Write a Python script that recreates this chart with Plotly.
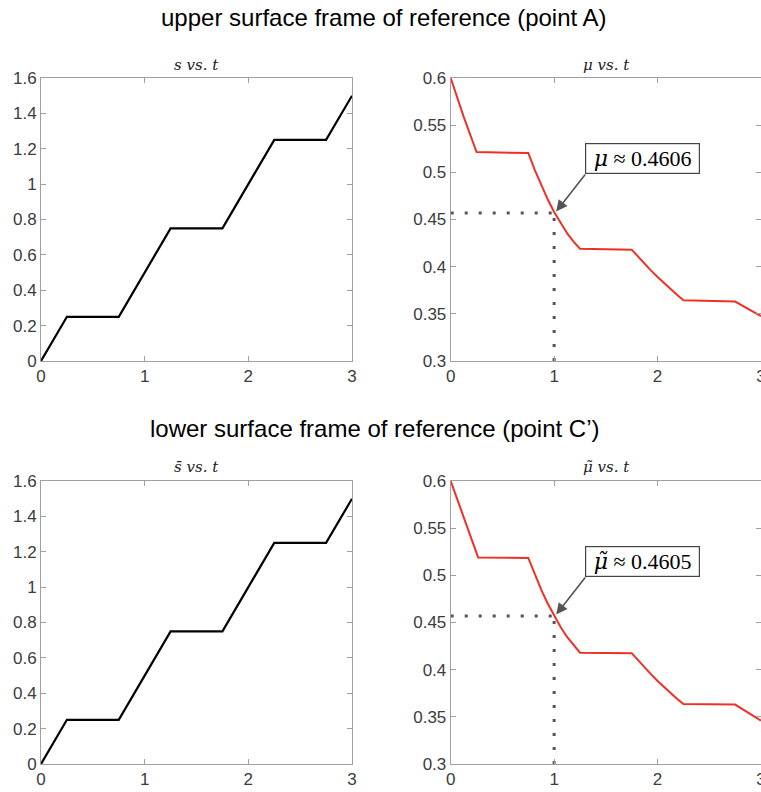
import plotly.graph_objects as go

# ---- data ----
t_s = [0, 0.25, 0.75, 1.25, 1.75, 2.25, 2.75, 3.0]
s_vals = [0, 0.25, 0.25, 0.75, 0.75, 1.25, 1.25, 1.5]
s_bar_vals = [0, 0.25, 0.25, 0.75, 0.75, 1.25, 1.25, 1.5]

t_mu = [0, 0.125, 0.25, 0.75, 0.8125, 0.875, 0.9375, 1.0, 1.0625, 1.125, 1.1875, 1.25,
        1.75, 1.8125, 1.875, 1.9375, 2.0, 2.0625, 2.125, 2.1875, 2.25, 2.75, 3.0]
mu_vals = [0.600, 0.559, 0.5215, 0.5205, 0.5027, 0.4863, 0.4714, 0.458, 0.446, 0.4355, 0.4265, 0.419,
           0.418, 0.4104, 0.403, 0.3958, 0.389, 0.3824, 0.3762, 0.3702, 0.3645, 0.363, 0.3475]

t_mu_bar = [0, 0.22, 0.265, 0.75, 0.8125, 0.875, 0.9375, 1.0, 1.0625, 1.125, 1.1875, 1.25,
            1.75, 1.8125, 1.875, 1.9375, 2.0, 2.0625, 2.125, 2.1875, 2.25, 2.75, 3.0]
mu_bar_vals = [0.600, 0.534, 0.519, 0.5185, 0.5009, 0.4849, 0.4702, 0.457, 0.4452, 0.4347, 0.4257, 0.418,
               0.4175, 0.4097, 0.4021, 0.395, 0.388, 0.3814, 0.3751, 0.3691, 0.3635, 0.363, 0.346]

t_mark = 1.0
mu_mark = 0.457
mu_bar_mark = 0.457
mu_value_text = "0.4606"
mu_bar_value_text = "0.4605"

x_ticks = [0, 1, 2, 3]
s_ticks = [0, 0.2, 0.4, 0.6, 0.8, 1.0, 1.2, 1.4, 1.6]
s_ticktext = ["0", "0.2", "0.4", "0.6", "0.8", "1", "1.2", "1.4", "1.6"]
mu_ticks = [0.3, 0.35, 0.4, 0.45, 0.5, 0.55, 0.6]
mu_ticktext = ["0.3", "0.35", "0.4", "0.45", "0.5", "0.55", "0.6"]

W, H = 761, 792
def px(x):
    return x / W
def py(y):
    return 1 - y / H

fig = go.Figure()

BLACK = "#000000"
RED = "#ee3126"
DOT = "#555555"

def dotted(xs, ys, xa_, ya_):
    fig.add_trace(go.Scatter(x=xs, y=ys, mode="lines",
                             line=dict(color=DOT, width=3, dash="3px,11px"),
                             xaxis=xa_, yaxis=ya_, showlegend=False, hoverinfo="skip"))

fig.add_trace(go.Scatter(x=t_s, y=s_vals, mode="lines", line=dict(color=BLACK, width=2.2),
                         xaxis="x", yaxis="y", showlegend=False))
dotted([0, t_mark], [mu_mark, mu_mark], "x2", "y2")
dotted([t_mark, t_mark], [0.3, mu_mark], "x2", "y2")
fig.add_trace(go.Scatter(x=t_mu, y=mu_vals, mode="lines", line=dict(color=RED, width=2),
                         xaxis="x2", yaxis="y2", showlegend=False))
fig.add_trace(go.Scatter(x=t_s, y=s_bar_vals, mode="lines", line=dict(color=BLACK, width=2.2),
                         xaxis="x3", yaxis="y3", showlegend=False))
dotted([0, t_mark], [mu_bar_mark, mu_bar_mark], "x4", "y4")
dotted([t_mark, t_mark], [0.3, mu_bar_mark], "x4", "y4")
fig.add_trace(go.Scatter(x=t_mu_bar, y=mu_bar_vals, mode="lines", line=dict(color=RED, width=2),
                         xaxis="x4", yaxis="y4", showlegend=False))

axis_common = dict(showgrid=False, zeroline=False, showline=True, linecolor="#a0a0a0",
                   linewidth=1, mirror="ticks", ticks="inside", ticklen=5, tickcolor="#a0a0a0",
                   ticklabeloverflow="allow",
                   tickfont=dict(family="Liberation Sans, Arial", size=17, color="#3c3c3c"))

xl = [px(41), px(352)]
xr = [px(450.7), 1.0]
yt = [py(361), py(78)]
yb = [py(764), py(481)]

def xa(domain, anchor):
    return dict(axis_common, domain=domain, anchor=anchor, range=[0, 3],
                tickvals=x_ticks, ticktext=[str(v) for v in x_ticks])

def ya_s(domain, anchor):
    return dict(axis_common, domain=domain, anchor=anchor, range=[0, 1.6],
                tickvals=s_ticks, ticktext=s_ticktext)

def ya_mu(domain, anchor):
    return dict(axis_common, domain=domain, anchor=anchor, range=[0.3, 0.6],
                tickvals=mu_ticks, ticktext=mu_ticktext)

fig.update_layout(
    width=W, height=H, margin=dict(l=0, r=0, t=0, b=0, autoexpand=False),
    paper_bgcolor="white", plot_bgcolor="white",
    xaxis=xa(xl, "y"), yaxis=ya_s(yt, "x"),
    xaxis2=xa(xr, "y2"), yaxis2=ya_mu(yt, "x2"),
    xaxis3=xa(xl, "y3"), yaxis3=ya_s(yb, "x3"),
    xaxis4=xa(xr, "y4"), yaxis4=ya_mu(yb, "x4"),
)

title_font = dict(family="Liberation Sans, Arial", size=24, color="#000000")
sub_font = dict(family="DejaVu Serif", size=15, color="#222222")

annotations = [
    dict(text="upper surface frame of reference (point A)", x=px(384), y=py(18),
         xref="paper", yref="paper", showarrow=False, font=title_font, xanchor="center", yanchor="middle"),
    dict(text="lower surface frame of reference (point C’)", x=px(375), y=py(428),
         xref="paper", yref="paper", showarrow=False, font=title_font, xanchor="center", yanchor="middle"),
    dict(text="<i>s vs. t</i>", x=px(196.5), y=py(65), xref="paper", yref="paper",
         showarrow=False, font=sub_font, xanchor="center", yanchor="middle"),
    dict(text="<i>μ vs. t</i>", x=px(606), y=py(65), xref="paper", yref="paper",
         showarrow=False, font=sub_font, xanchor="center", yanchor="middle"),
    dict(text="<i>s̄ vs. t</i>", x=px(196.5), y=py(467), xref="paper", yref="paper",
         showarrow=False, font=sub_font, xanchor="center", yanchor="middle"),
    dict(text="<i>μ̃ vs. t</i>", x=px(606), y=py(467), xref="paper", yref="paper",
         showarrow=False, font=sub_font, xanchor="center", yanchor="middle"),
]

box_font = dict(family="Liberation Serif, Times New Roman", size=22, color="#000000")
for xr_, yr_, sym, val, m in [("x2", "y2", "μ", mu_value_text, mu_mark),
                              ("x4", "y4", "μ̃", mu_bar_value_text, mu_bar_mark)]:
    annotations.append(dict(
        text=f"&nbsp;<span style='font-family:DejaVu Serif'><i>{sym}</i></span> ≈ {val}&nbsp;",
        x=t_mark + 0.02, y=m + 0.0015, xref=xr_, yref=yr_,
        showarrow=True, arrowhead=2, arrowsize=1.4, arrowwidth=1.6, arrowcolor="#555555",
        ax=29, ay=-37, xanchor="left", yanchor="bottom",
        font=box_font, bordercolor="#444444", borderwidth=1.2, borderpad=2, bgcolor="white",
    ))

fig.update_layout(annotations=annotations)

fig.write_html("out.html")
